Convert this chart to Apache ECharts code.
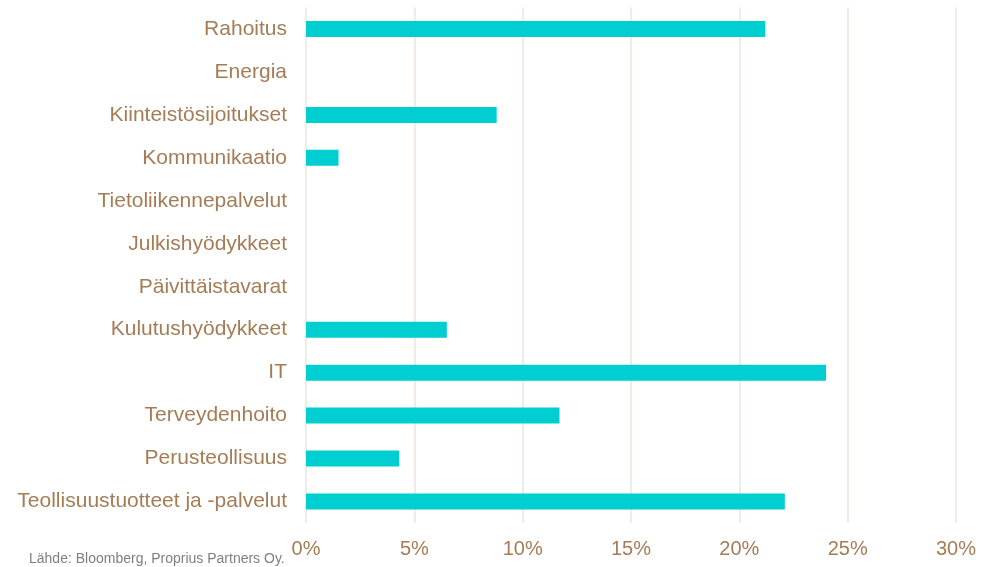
<!DOCTYPE html>
<html>
<head>
<meta charset="utf-8">
<script src="https://cdn.jsdelivr.net/npm/echarts@6/dist/echarts.min.js"></script>
<style>
  html, body { margin: 0; padding: 0; background: #fff; }
  #chart { width: 981px; height: 567px; }
</style>
</head>
<body>
<div id="chart"></div>
<script>
// toimialat ylhäältä alas
const sectors = [
  "Rahoitus",
  "Energia",
  "Kiinteistösijoitukset",
  "Kommunikaatio",
  "Tietoliikennepalvelut",
  "Julkishyödykkeet",
  "Päivittäistavarat",
  "Kulutushyödykkeet",
  "IT",
  "Terveydenhoito",
  "Perusteollisuus",
  "Teollisuustuotteet ja -palvelut",
];
// osuus salkusta, %
const weights = [21.2, 0, 8.8, 1.5, 0, 0, 0, 6.5, 24.0, 11.7, 4.3, 22.1];
const source = "Lähde: Bloomberg, Proprius Partners Oy.";

const chart = echarts.init(document.getElementById("chart"));

const labelColor = "#a57c55";
const fontFamily = "'Liberation Sans', Arial, sans-serif";

chart.setOption({
  backgroundColor: "#fff",
  animation: false,
  grid: { left: 306, right: 25, top: 7.5, bottom: 44, containLabel: false },
  graphic: [
    {
      type: "text",
      left: 29,
      top: 552,
      style: {
        text: source,
        fill: "#7f7f7f",
        font: "14px " + fontFamily,
      },
    },
  ],
  xAxis: {
    type: "value",
    min: 0,
    max: 30,
    interval: 5,
    axisLine: { show: false },
    axisTick: { show: false },
    splitLine: { lineStyle: { color: "#ece4dc", width: 1.5 } },
    axisLabel: {
      formatter: "{value}%",
      color: labelColor,
      fontSize: 20,
      fontFamily: fontFamily,
      margin: 16,
    },
  },
  yAxis: {
    type: "category",
    inverse: true,
    data: sectors,
    axisLine: { show: false },
    axisTick: { show: false },
    axisLabel: {
      color: labelColor,
      fontSize: 21,
      fontFamily: fontFamily,
      margin: 19,
    },
  },
  series: [
    {
      type: "bar",
      data: weights,
      barWidth: 16,
      itemStyle: { color: "#00ced1" },
    },
  ],
});
</script>
</body>
</html>
